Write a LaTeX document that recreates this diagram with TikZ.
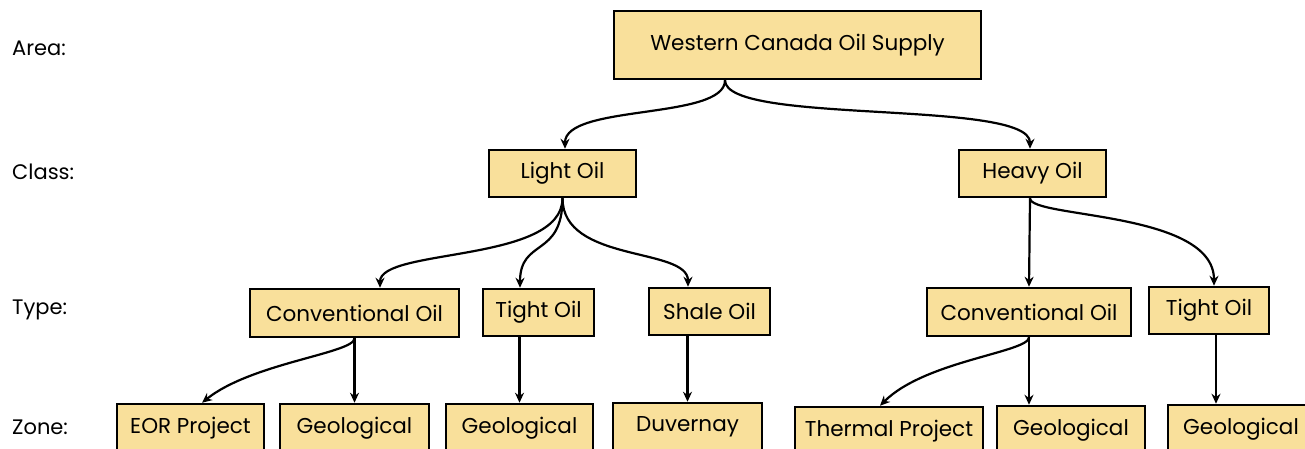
\documentclass[tikz,border=0pt]{standalone}
\usepackage{fontspec}
\setmainfont{Poppins}
\usetikzlibrary{arrows.meta,calc}
\definecolor{boxfill}{RGB}{249,224,155}
\tikzset{
  box/.style={draw=black, line width=2.5pt, fill=boxfill, inner sep=0pt, font=\fontsize{21.5}{24}\selectfont},
  lvl/.style={anchor=west, inner sep=0pt, font=\fontsize{21}{24}\selectfont},
  conn/.style={line width=2.2pt, -{Stealth[length=10pt,width=9pt]}}
}
\begin{document}
\begin{tikzpicture}[x=1pt,y=-1pt]
\useasboundingbox (0,0) rectangle (1305,448);
\clip (0,0) rectangle (1305,448);
% level labels
\node[lvl] (lA) at (12,48) {Area:};
\node[lvl] (lC) at (12,172) {Class:};
\node[lvl] (lT) at (12,310) {Type:};
\node[lvl] (lZ) at (12,427) {Zone:};
% nodes
\node[box, minimum width=367pt, minimum height=68pt] (top) at (797.5,45) {Western Canada Oil Supply};
\node[box, minimum width=147pt, minimum height=47pt] (light) at (562.5,173.5) {Light Oil};
\node[box, minimum width=147pt, minimum height=47pt] (heavy) at (1032.5,173.5) {Heavy Oil};
\node[box, minimum width=209pt, minimum height=48pt] (convL) at (354.5,313) {Conventional Oil};
\node[box, minimum width=111pt, minimum height=47pt] (tightL) at (538.5,312.5) {Tight Oil};
\node[box, minimum width=121pt, minimum height=47pt] (shale) at (709.5,311.5) {Shale Oil};
\node[box, minimum width=204pt, minimum height=48pt] (convR) at (1029,312) {Conventional Oil};
\node[box, minimum width=120pt, minimum height=47pt] (tightR) at (1209,310.5) {Tight Oil};
\node[box, minimum width=147pt, minimum height=48pt] (eor) at (190.5,428) {EOR Project};
\node[box, minimum width=149pt, minimum height=48pt] (geo1) at (354.5,428) {Geological};
\node[box, minimum width=147pt, minimum height=48pt] (geo2) at (519.5,428) {Geological};
\node[box, minimum width=149pt, minimum height=48pt] (duv) at (687.5,427) {Duvernay};
\node[box, minimum width=188pt, minimum height=48pt] (therm) at (889,431) {Thermal Project};
\node[box, minimum width=148pt, minimum height=48pt] (geo3) at (1071,430) {Geological};
\node[box, minimum width=146pt, minimum height=48pt] (geo4) at (1241,429) {Geological};
% connectors
\coordinate (topout) at ($(top.south)+(-72.5,0)$);
\draw[conn] (topout) .. controls +(0,40) and +(0,-45) .. ($(light.north)+(2.5,0)$);
\draw[conn] (topout) .. controls +(0,45) and +(0,-50) .. ($(heavy.north)+(-2.5,0)$);
\draw[conn] (light.south) .. controls +(0,65) and +(0,-40) .. ($(convL.north)+(25.5,0)$);
\draw[conn] (light.south) .. controls +(0,60) and +(0,-50) .. ($(tightL.north)+(-18.5,0)$);
\draw[conn] (light.south) .. controls +(0,65) and +(0,-40) .. ($(shale.north)+(-21.5,0)$);
\draw[conn] ($(heavy.south)+(-2.5,0)$) -- (convR.north);
\draw[conn] ($(heavy.south)+(-2.5,0)$) .. controls +(0,20) and +(0,-75) .. ($(tightR.north)+(5,0)$);
\draw[conn] (convL.south) .. controls +(0,15) and +(50,-40) .. ($(eor.north)+(11.5,0)$);
\draw[conn] (convL.south) -- (geo1.north);
\draw[conn] (tightL.south -| geo2.north) -- (geo2.north);
\draw[conn] (shale.south -| duv.north) -- (duv.north);
\draw[conn] (convR.south) .. controls +(0,15) and +(45,-45) .. ($(therm.north)+(-9,0)$);
\draw[conn] (convR.south) -- (convR.south |- geo3.north);
\draw[conn] ($(tightR.south)+(7,0)$) -- ($(tightR.south |- geo4.north)+(7,0)$);
\end{tikzpicture}
\end{document}
